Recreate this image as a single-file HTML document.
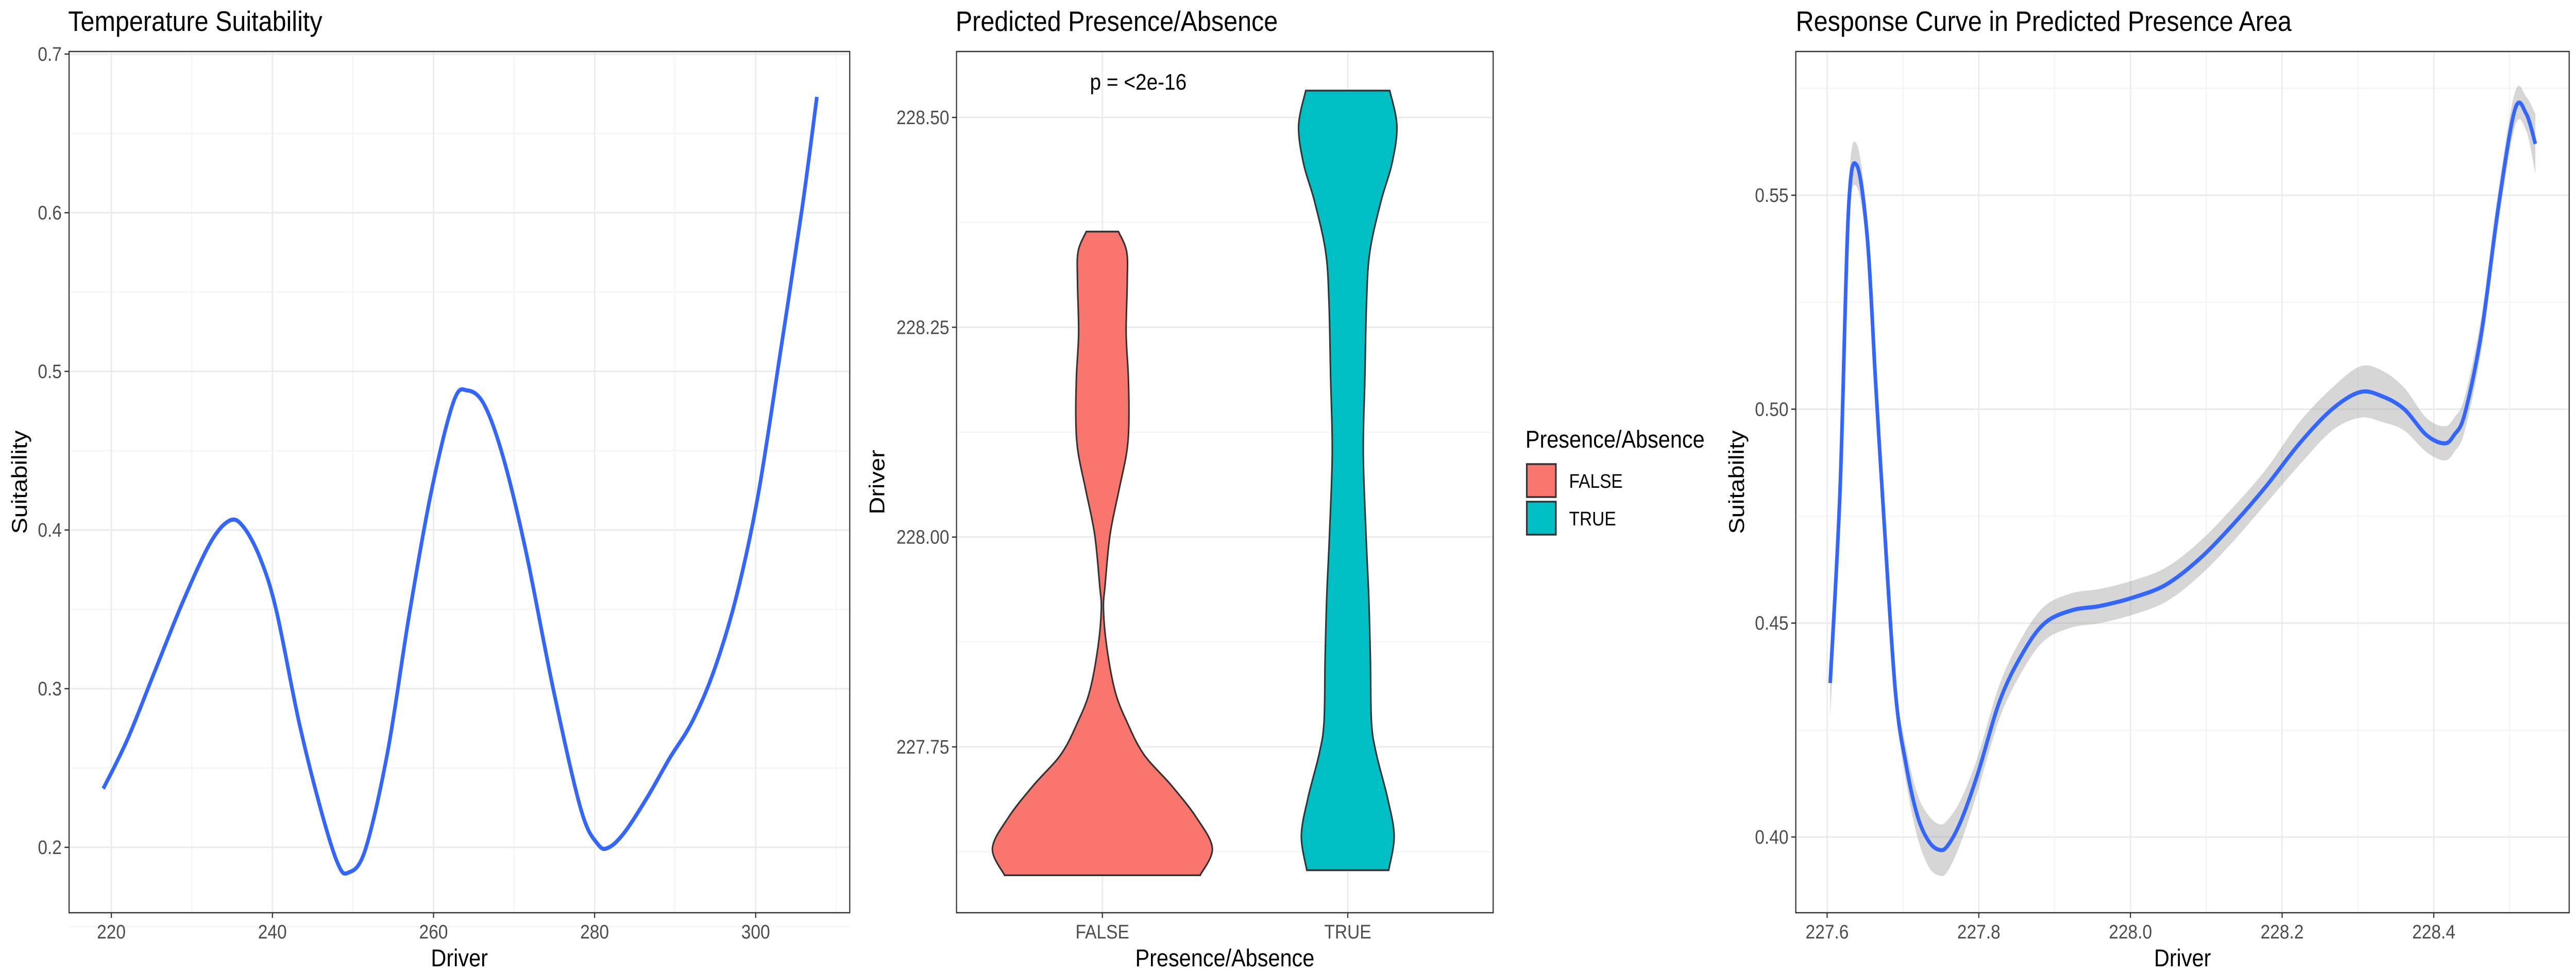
<!DOCTYPE html>
<html><head><meta charset="utf-8"><style>
html,body{margin:0;padding:0;background:#fff;overflow:hidden;width:100%;height:100%;}
svg{display:block;position:fixed;left:0;top:0;width:100vw;height:100vh;font-family:"Liberation Sans","DejaVu Sans",sans-serif;}
</style></head><body>
<svg id="chart" viewBox="0 0 5669 1889" preserveAspectRatio="none" xmlns="http://www.w3.org/2000/svg">
<rect width="5669" height="1889" fill="#fff"/>
</svg>
<script>
// ---------- Panel 1 data ----------
const p1X = [219.0,222,225.4,228.9,232.3,234.7,236.4,238.5,240.5,243.3,246,248.1,249.4,251.5,254.3,257,259.8,262.5,264.2,266.3,268.7,271.5,274.9,278.3,280.4,281.8,283.8,286.6,289.3,292.1,294.8,297.6,300.3,303.1,305.8,307.6];
const p1Y = [0.237,0.268,0.311,0.355,0.392,0.406,0.402,0.382,0.349,0.279,0.224,0.190,0.184,0.198,0.260,0.347,0.426,0.481,0.488,0.479,0.445,0.386,0.299,0.224,0.202,0.200,0.210,0.232,0.256,0.279,0.311,0.358,0.422,0.513,0.604,0.673];
const p1XTicks = [220,240,260,280,300];
const p1YTicks = [0.2,0.3,0.4,0.5,0.6,0.7];
// ---------- Panel 2 data ----------
const vCats = ["FALSE","TRUE"];
const vFalseY = [228.364,228.340,228.303,228.243,228.191,228.138,228.101,228.056,228.003,227.943,227.914,227.869,227.816,227.779,227.741,227.704,227.666,227.629,227.597];
const vFalseW = [0.146,0.221,0.226,0.216,0.236,0.241,0.221,0.151,0.070,0.025,0.010,0.040,0.116,0.226,0.377,0.628,0.854,1.0,0.889];
const vTrueY = [228.532,228.490,228.445,228.400,228.340,228.281,228.191,228.101,228.003,227.929,227.854,227.779,227.741,227.689,227.644,227.603];
const vTrueW = [0.382,0.447,0.402,0.302,0.201,0.171,0.156,0.141,0.166,0.191,0.206,0.216,0.261,0.362,0.422,0.372];
const p2YTicks = [227.75,228.00,228.25,228.50];
const p2YLabels = ["227.75","228.00","228.25","228.50"];
// ---------- Panel 3 data ----------
const p3X = [227.604,227.617,227.628,227.639,227.653,227.664,227.675,227.690,227.704,227.719,227.734,227.748,227.759,227.777,227.799,227.828,227.858,227.887,227.923,227.960,228.004,228.047,228.091,228.135,228.179,228.223,228.266,228.303,228.332,228.361,228.390,228.414,228.427,228.441,228.463,228.485,228.507,228.522,228.534];
const p3Y = [0.436,0.481,0.546,0.557,0.540,0.506,0.474,0.434,0.417,0.405,0.399,0.397,0.398,0.404,0.415,0.432,0.443,0.450,0.453,0.454,0.456,0.459,0.465,0.473,0.482,0.492,0.500,0.504,0.503,0.500,0.494,0.492,0.494,0.499,0.518,0.547,0.570,0.569,0.562];
const p3SE = [0.008,0.006,0.005,0.005,0.004,0.003,0.003,0.003,0.004,0.005,0.006,0.006,0.006,0.005,0.004,0.004,0.004,0.004,0.004,0.004,0.004,0.004,0.004,0.004,0.004,0.005,0.005,0.006,0.006,0.005,0.004,0.004,0.004,0.004,0.004,0.004,0.004,0.004,0.007];
const p3XTicks = [227.6,227.8,228.0,228.2,228.4];
const p3XLabels = ["227.6","227.8","228.0","228.2","228.4"];
const p3YTicks = [0.40,0.45,0.50,0.55];
const p3YLabels = ["0.40","0.45","0.50","0.55"];

const NS="http://www.w3.org/2000/svg";
const svg=document.getElementById('chart');
function mk(tag,attrs,parent){const e=document.createElementNS(NS,tag);for(const k in attrs)e.setAttribute(k,attrs[k]);(parent||svg).appendChild(e);return e;}
function txt(s,attrs,parent){const e=mk('text',attrs,parent);e.textContent=s;return e;}
function lin(d0,d1,r0,r1){return v=>r0+(v-d0)*(r1-r0)/(d1-d0);}
function smooth(pts){let d='M'+pts[0][0]+','+pts[0][1];for(let i=0;i<pts.length-1;i++){const p0=pts[Math.max(i-1,0)],p1=pts[i],p2=pts[i+1],p3=pts[Math.min(i+2,pts.length-1)];d+=' C'+(p1[0]+(p2[0]-p0[0])/6)+','+(p1[1]+(p2[1]-p0[1])/6)+' '+(p2[0]-(p3[0]-p1[0])/6)+','+(p2[1]-(p3[1]-p1[1])/6)+' '+p2[0]+','+p2[1];}return d;}
const TOP=100,BOT=1772;

function frame(g,L,R,xs,ys,xMinor,yMinor){
  yMinor.forEach(v=>mk('line',{x1:L,x2:R,y1:ys(v),y2:ys(v),stroke:'#f0f0f0','stroke-width':1.5},g));
  xMinor.forEach(v=>mk('line',{x1:xs(v),x2:xs(v),y1:TOP,y2:BOT,stroke:'#f0f0f0','stroke-width':1.5},g));
}
function majorGrid(g,L,R,xs,ys,xT,yT){
  yT.forEach(v=>mk('line',{x1:L,x2:R,y1:ys(v),y2:ys(v),stroke:'#ebebeb','stroke-width':3},g));
  xT.forEach(v=>mk('line',{x1:xs(v),x2:xs(v),y1:TOP,y2:BOT,stroke:'#ebebeb','stroke-width':3},g));
}
function axes(g,L,R,xs,ys,xT,xL,yT,yL){
  yT.forEach((v,i)=>{mk('line',{x1:L-10,x2:L,y1:ys(v),y2:ys(v),stroke:'#333','stroke-width':2.5},g);
    const t=txt(yL[i],{x:L-16,y:ys(v)+13,'text-anchor':'end','font-size':38,fill:'#4d4d4d'},g);
    
    });
  xT.forEach((v,i)=>{mk('line',{x1:xs(v),x2:xs(v),y1:BOT,y2:BOT+10,stroke:'#333','stroke-width':2.5},g);
    const t=txt(xL[i],{x:xs(v),y:1822,'text-anchor':'middle','font-size':38,fill:'#4d4d4d'},g);
    
    });
  mk('rect',{x:L,y:TOP,width:R-L,height:BOT-TOP,fill:'none',stroke:'#333','stroke-width':2.5},g);
}

// ===== Panel 1 =====
{
const g=mk('g',{});


const L=152,R=1870;
const xs=lin(220,300,245,1663), ys=lin(0.2,0.7,1645,105);
frame(g,L,R,xs,ys,[230,250,270,290,310],[0.15,0.25,0.35,0.45,0.55,0.65]);
majorGrid(g,L,R,xs,ys,p1XTicks,p1YTicks);
const pts=p1X.map((x,i)=>[xs(x),ys(p1Y[i])]);
const line=mk('path',{d:smooth(pts),fill:'none',stroke:'#3366ff','stroke-width':8},g);


axes(g,L,R,xs,ys,p1XTicks,p1XTicks.map(String),p1YTicks,p1YTicks.map(String));
const t=txt('Temperature Suitability',{x:150,y:60,'font-size':55,fill:'#000'},g);


const xa=txt('Driver',{x:(L+R)/2,y:1876,'text-anchor':'middle','font-size':47,fill:'#000'},g);


const ya=txt('Suitability',{x:0,y:0,'text-anchor':'middle','font-size':47,fill:'#000',transform:'translate(59,'+((TOP+BOT)/2)+') rotate(-90)'},g);


}

// ===== Panel 2 =====
{
const g=mk('g',{});


const L=2105,R=3286;
const ys=lin(227.75,228.5,1450,228);
const catX=[2426,2966];
const xs=i=>catX[i];
frame(g,L,R,v=>0,ys,[],[227.625,227.875,228.125,228.375]);
majorGrid(g,L,R,xs,ys,[0,1],p2YTicks);
const maxHalf=242;
const fills=['#f8766d','#00bfc4'];
[[vFalseY,vFalseW],[vTrueY,vTrueW]].forEach((d,ci)=>{
  const [Y,W]=d;const cx=xs(ci);
  const right=Y.map((y,i)=>[cx+W[i]*maxHalf,ys(y)]);
  const left=Y.map((y,i)=>[cx-W[i]*maxHalf,ys(y)]).reverse();
  let path=smooth(right);
  const lp=smooth(left);
  path+=' L'+lp.slice(1)+' Z';
  const v=mk('path',{d:path,fill:fills[ci],stroke:'#333','stroke-width':3.5},g);
  
  
});
axes(g,L,R,xs,ys,[0,1],vCats,p2YTicks,p2YLabels);
const t=txt('Predicted Presence/Absence',{x:2103,y:60,'font-size':55,fill:'#000'},g);


const pv=txt('p = <2e-16',{x:2505,y:174,'text-anchor':'middle','font-size':44,fill:'#000'},g);


const xa=txt('Presence/Absence',{x:(L+R)/2,y:1876,'text-anchor':'middle','font-size':47,fill:'#000'},g);


const ya=txt('Driver',{x:0,y:0,'text-anchor':'middle','font-size':47,fill:'#000',transform:'translate(1946,'+((TOP+BOT)/2)+') rotate(-90)'},g);


// legend
const lg=mk('g',{},g);


const lt=txt('Presence/Absence',{x:3357,y:869,'font-size':47,fill:'#000'},lg);


vCats.forEach((c,i)=>{
  const y0=901+i*73;
  const k=mk('rect',{x:3360,y:y0,width:64,height:64,fill:fills[i],stroke:'#333','stroke-width':3.5},lg);
  
  
  const l=txt(c,{x:3453,y:y0+46,'font-size':38,fill:'#000'},lg);
  
  
});
}

// ===== Panel 3 =====
{
const g=mk('g',{});


const L=3952,R=5654;
const xs=lin(227.6,228.4,4021,5356), ys=lin(0.40,0.55,1625,379);
frame(g,L,R,xs,ys,[227.7,227.9,228.1,228.3,228.5],[0.425,0.475,0.525,0.575]);
majorGrid(g,L,R,xs,ys,p3XTicks,p3YTicks);
const up=p3X.map((x,i)=>[xs(x),ys(p3Y[i]+p3SE[i])]);
const dn=p3X.map((x,i)=>[xs(x),ys(p3Y[i]-p3SE[i])]).reverse();
const band=mk('path',{d:smooth(up)+' L'+smooth(dn).slice(1)+' Z',fill:'#999','fill-opacity':0.4,stroke:'none'},g);


const pts=p3X.map((x,i)=>[xs(x),ys(p3Y[i])]);
const line=mk('path',{d:smooth(pts),fill:'none',stroke:'#3366ff','stroke-width':8},g);


axes(g,L,R,xs,ys,p3XTicks,p3XLabels,p3YTicks,p3YLabels);
const t=txt('Response Curve in Predicted Presence Area',{x:3952,y:60,'font-size':55,fill:'#000'},g);


const xa=txt('Driver',{x:(L+R)/2,y:1876,'text-anchor':'middle','font-size':47,fill:'#000'},g);


const ya=txt('Suitability',{x:0,y:0,'text-anchor':'middle','font-size':47,fill:'#000',transform:'translate(3838,'+((TOP+BOT)/2)+') rotate(-90)'},g);


}
</script>
</body></html>
